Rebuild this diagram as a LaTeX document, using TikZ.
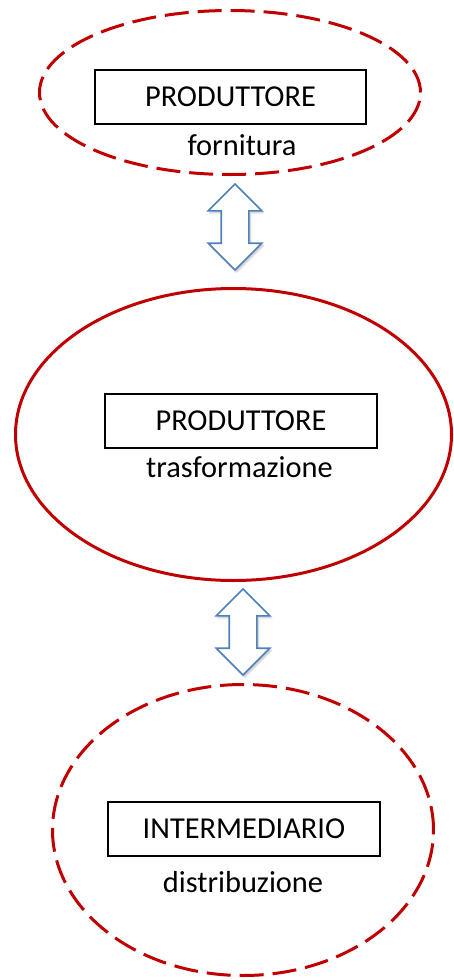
\documentclass[tikz,border=0pt]{standalone}
\usepackage{fontspec}
\setmainfont{Carlito}
\usetikzlibrary{shapes.geometric,shapes.arrows,shadows.blur}
\definecolor{ringred}{HTML}{C00000}
\definecolor{flowblue}{HTML}{4F81BD}
\begin{document}
\begin{tikzpicture}[x=1pt,y=-1pt,
  ring/.style={ellipse, draw=ringred, line width=3pt, inner sep=0pt},
  dashring/.style={ring, dash pattern=on 24pt off 9pt},
  rolebox/.style={rectangle, draw=black, line width=1.2pt, fill=white,
    minimum width=271pt, minimum height=54pt, inner sep=0pt,
    font=\fontsize{30.4}{36}\selectfont},
  caption/.style={anchor=base, inner sep=0pt, font=\fontsize{30.4}{36}\selectfont},
  flow/.style={double arrow, draw=flowblue, fill=white, line width=1.6pt,
    rotate=90, inner sep=13pt, minimum height=86pt,
    double arrow head extend=13pt, double arrow head indent=0pt,
    blur shadow={shadow xshift=1.5pt, shadow yshift=-2pt, shadow opacity=25, shadow blur steps=6}}]
  \useasboundingbox (0,0) rectangle (454,980);

  % supply stage
  \node[dashring, minimum width=381pt, minimum height=164pt] (supply) at (230,92.5) {};
  \node[rolebox] (supplybox) at (230.5,97) {PRODUTTORE};
  \node[caption] (supplylbl) at (242,155) {fornitura};

  % transformation stage
  \node[ring, minimum width=436pt, minimum height=292pt] (transform) at (233.5,434.5) {};
  \node[rolebox, minimum width=272pt] (transformbox) at (241,421) {PRODUTTORE};
  \node[caption] (transformlbl) at (239.5,477) {trasformazione};

  % distribution stage
  \node[dashring, minimum width=381pt, minimum height=291pt] (distrib) at (243,830) {};
  \node[rolebox, minimum width=272pt] (distribbox) at (244,829) {INTERMEDIARIO};
  \node[caption] (distriblbl) at (243,892) {distribuzione};

  % two-way links between stages
  \node[flow] (link1) at (235,227) {};
  \node[flow] (link2) at (243,632) {};
\end{tikzpicture}
\end{document}
